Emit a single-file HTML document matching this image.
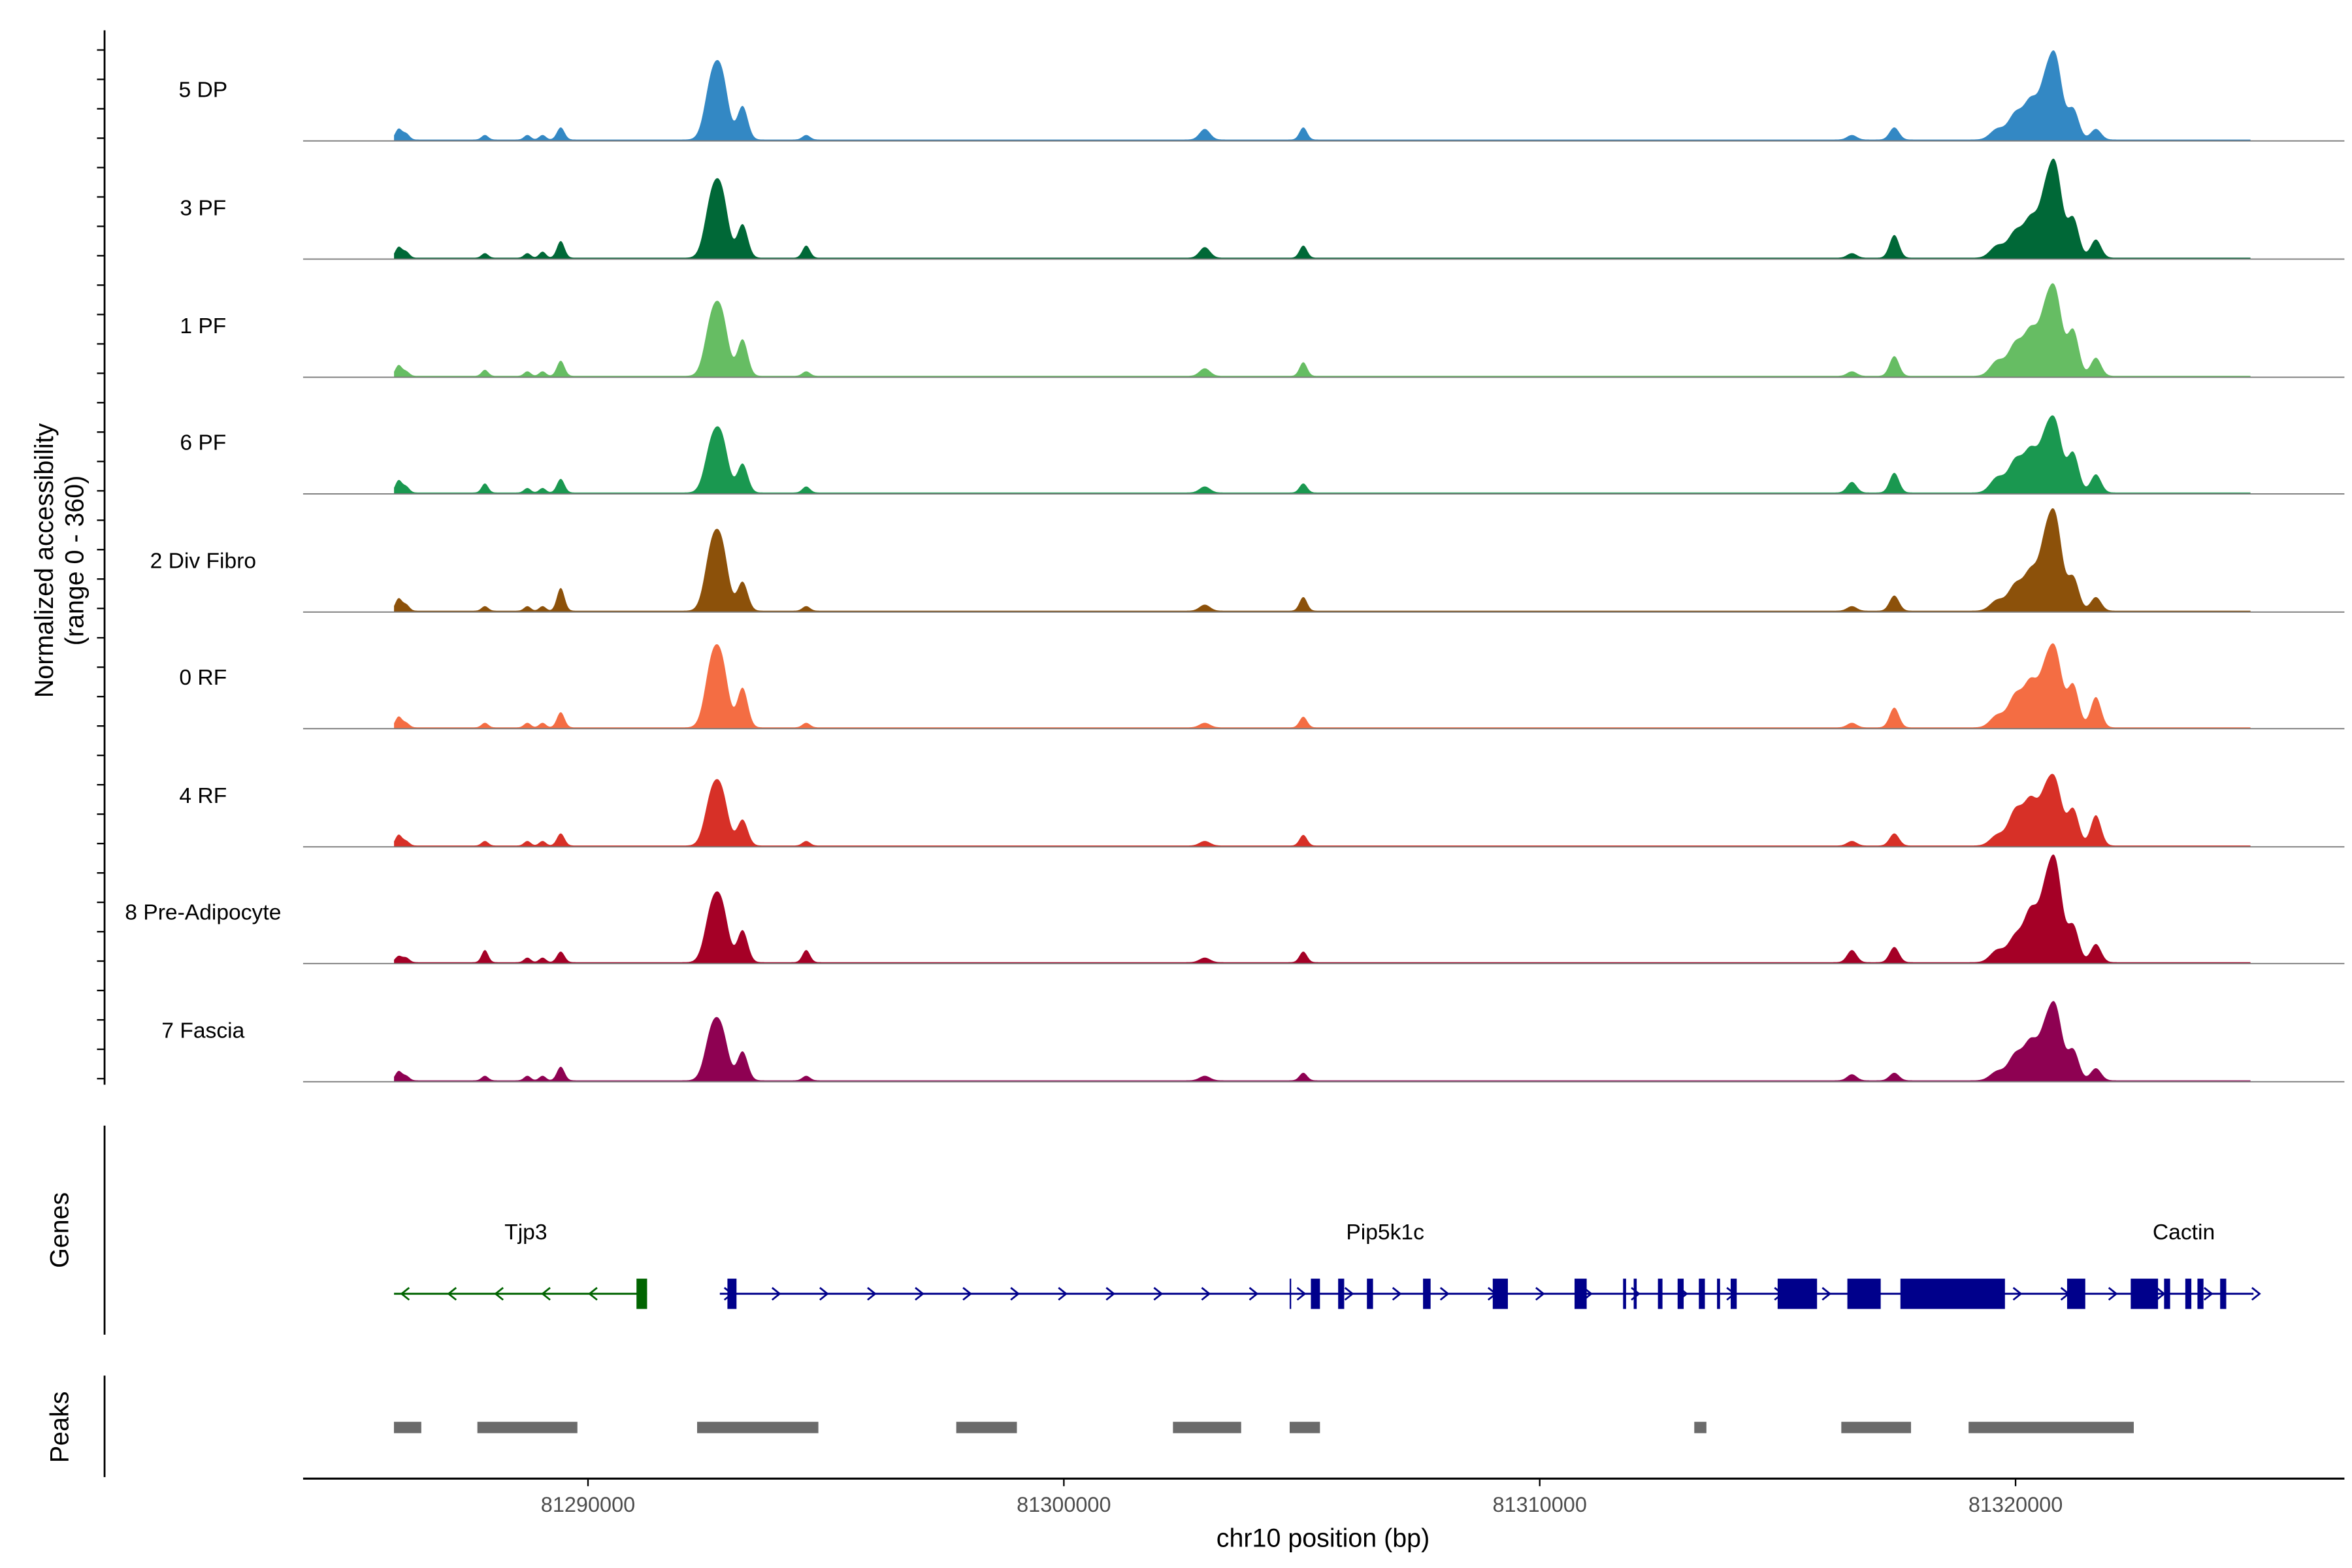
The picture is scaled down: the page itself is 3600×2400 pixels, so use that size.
<!DOCTYPE html>
<html><head><meta charset="utf-8"><style>
html,body{margin:0;padding:0;background:#fff}
svg{display:block;font-family:"Liberation Sans",Arial,sans-serif}
</style></head><body>
<svg id="chart" width="3600" height="2400" viewBox="0 0 1552 1035" preserveAspectRatio="none" xmlns="http://www.w3.org/2000/svg">
<rect width="1552" height="1035" fill="#fff"/>
<g id="tracks"></g>
<g id="axisLeft"></g>
<text transform="translate(35,370) rotate(-90)" text-anchor="middle" font-size="17">Normalized accessibility</text>
<text transform="translate(55,370) rotate(-90)" text-anchor="middle" font-size="17">(range 0 - 360)</text>
<line x1="69" y1="743" x2="69" y2="881" stroke="#000" stroke-width="1.2"/>
<text transform="translate(45,812) rotate(-90)" text-anchor="middle" font-size="17">Genes</text>
<line x1="69" y1="908" x2="69" y2="975" stroke="#000" stroke-width="1.2"/>
<text transform="translate(45,942) rotate(-90)" text-anchor="middle" font-size="17">Peaks</text>
<g id="genes"></g>
<g id="peaks"></g>
<g id="xaxis"></g>
<text x="873" y="1021" text-anchor="middle" font-size="17">chr10 position (bp)</text>
</svg>
<script>
const trackNames=["5 DP","3 PF","1 PF","6 PF","2 Div Fibro","0 RF","4 RF","8 Pre-Adipocyte","7 Fascia"];
const trackColors=["#3388c4","#006837","#66bd63","#1a9850","#8c510a","#f46d43","#d73027","#a50026","#8e0152"];
const peakCenters=[81286019,81286178,81287834,81288726,81289045,81289427,81292611,81292834,81293248,81294586,81302962,81305032,81316561,81317452,81319618,81320000,81320318,81320637,81320860,81321210,81321688];
const peakWidths=[70,70,70,70,70,80,150,130,110,80,110,80,100,100,150,150,140,140,130,120,110];
const sigDP=[7,4,3,3,3,8,40,32,22,3,7,8,3,8,7,17,24,36,45,20,7];
const sigPF3=[7,4,3,3,4,11,40,32,22,8,7,8,3,15,8,17,24,40,50,26,12];
const sigPF1=[7,3,4,3,3,10,38,30,24,3,5,9,3,13,10,21,28,40,45,30,12];
const sigPF6=[8,4,6,3,3,9,33,27,19,4,4,6,7,13,10,21,26,34,37,26,12];
const sigDiv=[8,4,3,3,3,15,42,32,19,3,4,9,3,10,7,17,24,44,50,22,9];
const sigRF0=[7,3,3,3,3,10,43,32,26,3,3,7,3,13,8,21,28,36,41,28,20];
const sigRF4=[7,3,3,3,3,8,34,26,17,3,3,7,3,8,7,23,28,32,34,24,20];
const sigPre=[4,3,8,3,3,7,36,28,21,8,3,7,8,10,8,17,32,44,54,24,12];
const sigFas=[6,3,3,3,3,9,33,24,19,3,3,5,4,5,6,17,24,32,40,20,8];
const signals=[sigDP,sigPF3,sigPF1,sigPF6,sigDiv,sigRF0,sigRF4,sigPre,sigFas];
const xTicks=[81290000,81300000,81310000,81320000];
const peakStarts=[81285922,81287675,81292293,81297739,81302293,81304745,81313248,81316338,81319013];
const peakEnds=[81286497,81289777,81294841,81299013,81303726,81305382,81313503,81317803,81322484];
const exonStarts=[81291019,81292930,81304745,81305191,81305764,81306369,81307548,81309013,81310732,81311752,81311975,81312484,81312898,81313344,81313726,81314013,81315000,81315700,81316465,81317580,81321083,81322420,81323121,81323567,81323822,81324299];
const exonEnds=[81291242,81293121,81304777,81305382,81305891,81306497,81307707,81309331,81310987,81311815,81312038,81312580,81313025,81313471,81313790,81314140,81315828,81315764,81317166,81319777,81321465,81322994,81323248,81323694,81323949,81324427];
const geneLabels=["Tjp3","Pip5k1c","Cactin"];
const geneLabelPos=[81288694,81306752,81323535];

const NS="http://www.w3.org/2000/svg";
function X(bp){return 388+(bp-81290000)*0.0314;}
function el(t,a,p){const e=document.createElementNS(NS,t);for(const k in a)e.setAttribute(k,a[k]);p.appendChild(e);return e;}
const tr=document.getElementById('tracks');
const bases=[93,171,249,326,404,481,559,636,714];
signals.forEach((s,i)=>{
  const b=bases[i];
  let d=`M260,${b}`;
  for(let x=260;x<=1485;x+=0.5){
    let v=0.9;
    for(let j=0;j<peakCenters.length;j++){const dx=(X(peakCenters[j])-x)/(peakWidths[j]*0.0314);v+=s[j]*Math.exp(-0.5*dx*dx);}
    v=Math.min(v,77);
    d+=`L${x},${(b-v).toFixed(2)}`;
  }
  d+=`L1485,${b}Z`;
  const p=el('path',{d:d,fill:trackColors[i]},tr);
  
  
  const l=el('line',{x1:200,x2:1547,y1:b,y2:b,stroke:'#7a7a7a','stroke-width':0.8},tr);
  
  
  const t=el('text',{x:134,y:b-29,'text-anchor':'middle','font-size':14.5},tr);
  t.textContent=trackNames[i];
  
  
});
const ax=document.getElementById('axisLeft');
el('line',{x1:69,x2:69,y1:20,y2:716,stroke:'#000','stroke-width':1.2},ax);
for(let y=33;y<=716;y+=19.4){el('line',{x1:64,x2:69,y1:y,y2:y,stroke:'#000','stroke-width':1},ax);}
const g=document.getElementById('genes');
const gy=854;
el('line',{x1:260,x2:427,y1:gy,y2:gy,stroke:'#006400','stroke-width':1.3},g);
for(let x=265;x<410;x+=31){el('path',{d:`M${x+5},${gy-4}L${x},${gy}L${x+5},${gy+4}`,fill:'none',stroke:'#006400','stroke-width':1.2},g);}
el('line',{x1:475,x2:1487,y1:gy,y2:gy,stroke:'#00008b','stroke-width':1.3},g);
for(let x=478;x<1487;x+=31.5){el('path',{d:`M${x},${gy-4}L${x+5},${gy}L${x},${gy+4}`,fill:'none',stroke:'#00008b','stroke-width':1.2},g);}
exonStarts.forEach((s,i)=>{
  const x1=X(s),x2=X(exonEnds[i]);
  const r=el('rect',{x:Math.min(x1,x2),y:gy-10,width:Math.max(Math.abs(x2-x1),1),height:20,fill:i==0?'#006400':'#00008b'},g);
  
  
});
geneLabels.forEach((n,i)=>{
  const t=el('text',{x:X(geneLabelPos[i]),y:818,'text-anchor':'middle','font-size':14.5},g);
  t.textContent=n;
  
  
});
const pk=document.getElementById('peaks');
peakStarts.forEach((s,i)=>{
  const r=el('rect',{x:X(s),y:938.5,width:X(peakEnds[i])-X(s),height:7.5,fill:'#6b6b6b'},pk);
  
  
});
const xa=document.getElementById('xaxis');
el('line',{x1:200,x2:1547,y1:976,y2:976,stroke:'#000','stroke-width':1.3},xa);
xTicks.forEach(v=>{
  el('line',{x1:X(v),x2:X(v),y1:976,y2:981,stroke:'#000','stroke-width':1},xa);
  const t=el('text',{x:X(v),y:998,'text-anchor':'middle','font-size':14,fill:'#4d4d4d'},xa);
  t.textContent=v;
  
  
});
</script>
</body></html>
